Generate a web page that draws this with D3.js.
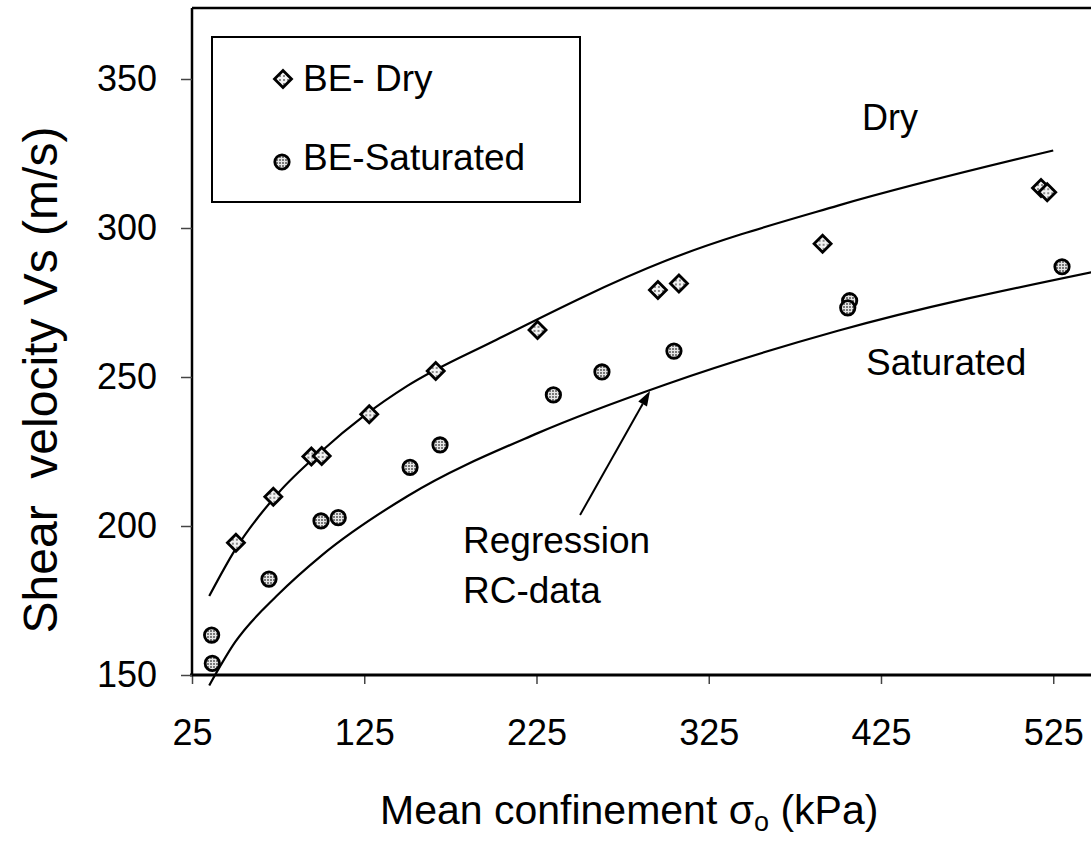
<!DOCTYPE html>
<html>
<head>
<meta charset="utf-8">
<script src="https://cdn.jsdelivr.net/npm/d3@7"></script>
<style>
  html, body { margin: 0; padding: 0; background: #fff; }
  svg { display: block; font-family: "Liberation Sans", Arial, sans-serif; }
</style>
</head>
<body>
<svg id="chart" width="1091" height="850"></svg>
<script>
// Axis ticks
const sigmaTicks = [25, 125, 225, 325, 425, 525];
const vsTicks = [150, 200, 250, 300, 350];

// Bender-element measurements, dry specimens (kPa, m/s)
const drySigma = [50.5, 72.2, 94.3, 100.3, 127.9, 166.5, 225.6, 295.5, 307.7, 391.1, 517.9, 521.5];
const dryVs    = [194.4, 209.8, 223.3, 223.5, 237.5, 252.0, 265.8, 279.2, 281.4, 294.7, 313.4, 312.0];

// Bender-element measurements, saturated specimens (kPa, m/s)
const satSigma = [36.8, 36.4, 69.7, 99.9, 109.9, 151.6, 169.0, 234.8, 263.0, 304.8, 406.8, 405.7, 530.1];
const satVs    = [153.9, 163.4, 182.2, 201.7, 202.8, 219.7, 227.2, 244.0, 251.7, 258.7, 275.6, 273.2, 287.0];

// Regression curves from resonant-column data
const regDrySigma = [35, 50, 75, 100, 125, 150, 200, 300, 400, 525];
const regDryVs    = [176.5, 192, 211, 225, 237, 247, 262, 289, 307.5, 326];
const regSatSigma = [35, 50, 75, 100, 150, 225, 300, 400, 550];
const regSatVs    = [146.5, 161, 177, 190, 210, 231, 247.5, 265.5, 285.5];

const svg = d3.select("#chart");

// Speckled marker fills
const defs = svg.append("defs");
const pLight = defs.append("pattern").attr("id", "speckleLight")
  .attr("width", 4).attr("height", 4).attr("patternUnits", "userSpaceOnUse");
pLight.append("rect").attr("width", 4).attr("height", 4).attr("fill", "#f2f2f2");
pLight.append("rect").attr("x", 0).attr("y", 0).attr("width", 2).attr("height", 2).attr("fill", "#8a8a8a");
const pDark = defs.append("pattern").attr("id", "speckleDark")
  .attr("width", 3).attr("height", 3).attr("patternUnits", "userSpaceOnUse");
pDark.append("rect").attr("width", 3).attr("height", 3).attr("fill", "#e6e6e6");
pDark.append("rect").attr("x", 0).attr("y", 0).attr("width", 2).attr("height", 2).attr("fill", "#7a7a7a");

const x = d3.scaleLinear().domain([25, 550]).range([192, 1096.3]);
const y = d3.scaleLinear().domain([150, 350]).range([675, 79]);

// Plot frame: left and top borders
svg.append("line").attr("x1", 192).attr("x2", 192).attr("y1", 8).attr("y2", 675)
  .attr("stroke", "#000").attr("stroke-width", 2.5);
svg.append("line").attr("x1", 192).attr("x2", 1091).attr("y1", 8).attr("y2", 8)
  .attr("stroke", "#000").attr("stroke-width", 2.5);

// X axis
const xAxis = svg.append("g").attr("transform", "translate(0,675)")
  .call(d3.axisBottom(x).tickValues(sigmaTicks).tickFormat(d3.format("d")).tickSize(9).tickPadding(35));
xAxis.select(".domain").remove();
xAxis.selectAll(".tick line").attr("stroke", "#444").attr("stroke-width", 1.5);
xAxis.selectAll("text").attr("font-size", 36).attr("fill", "#000")
  .attr("font-family", "Liberation Sans, Arial, sans-serif");
svg.append("line").attr("x1", 190).attr("x2", 1091).attr("y1", 675).attr("y2", 675)
  .attr("stroke", "#000").attr("stroke-width", 3.2);

// Y axis
const yAxis = svg.append("g").attr("transform", "translate(192,0)")
  .call(d3.axisLeft(y).tickValues(vsTicks).tickFormat(d3.format("d")).tickSize(11).tickPadding(24));
yAxis.select(".domain").remove();
yAxis.selectAll(".tick line").attr("stroke", "#444").attr("stroke-width", 1.5);
yAxis.selectAll("text").attr("font-size", 36).attr("fill", "#000")
  .attr("font-family", "Liberation Sans, Arial, sans-serif");

// Axis titles
const xt = svg.append("text").attr("x", 380).attr("y", 824)
  .attr("font-size", 41).attr("fill", "#000");
xt.append("tspan").text("Mean confinement ");
xt.append("tspan").text("σ");
xt.append("tspan").attr("font-size", 27).attr("dy", 7).text("o");
xt.append("tspan").attr("dy", -7).text(" (kPa)");

svg.append("text")
  .attr("transform", "translate(57,380) rotate(-90)")
  .attr("text-anchor", "middle").attr("font-size", 48).attr("fill", "#000")
  .style("white-space", "pre")
  .text("Shear  velocity Vs (m/s)");

// Regression curves
const line = d3.line().x(d => x(d[0])).y(d => y(d[1])).curve(d3.curveMonotoneX);
svg.append("path").datum(d3.zip(regDrySigma, regDryVs)).attr("d", line)
  .attr("fill", "none").attr("stroke", "#000").attr("stroke-width", 2.2);
svg.append("path").datum(d3.zip(regSatSigma, regSatVs)).attr("d", line)
  .attr("fill", "none").attr("stroke", "#000").attr("stroke-width", 2.2);

// Marker shapes
const diamondPath = "M0,-8.5L8.5,0L0,8.5L-8.5,0Z";
function drawDiamond(g, cx, cy) {
  g.append("path").attr("d", diamondPath).attr("transform", `translate(${cx},${cy})`)
    .attr("fill", "url(#speckleLight)").attr("stroke", "#000").attr("stroke-width", 2.8);
}
function drawCircle(g, cx, cy) {
  g.append("circle").attr("cx", cx).attr("cy", cy).attr("r", 7.2)
    .attr("fill", "url(#speckleDark)").attr("stroke", "#000").attr("stroke-width", 2.8);
}

const marks = svg.append("g");
d3.zip(drySigma, dryVs).forEach(d => drawDiamond(marks, x(d[0]), y(d[1])));
d3.zip(satSigma, satVs).forEach(d => drawCircle(marks, x(d[0]), y(d[1])));

// Curve labels
svg.append("text").attr("x", 862).attr("y", 130).attr("font-size", 36).attr("fill", "#000").text("Dry");
svg.append("text").attr("x", 866).attr("y", 375).attr("font-size", 37).attr("fill", "#000").text("Saturated");
svg.append("text").attr("x", 463).attr("y", 553).attr("font-size", 37).attr("fill", "#000").text("Regression");
svg.append("text").attr("x", 463).attr("y", 603).attr("font-size", 37).attr("fill", "#000").text("RC-data");

// Arrow from the annotation to the saturated regression curve
const tail = [x(250.3), y(203.7)];
const tip = [x(290.9), y(245.3)];
const ang = Math.atan2(tip[1] - tail[1], tip[0] - tail[0]);
const headLen = 15, headW = 5;
const base = [tip[0] - headLen * Math.cos(ang), tip[1] - headLen * Math.sin(ang)];
svg.append("line").attr("x1", tail[0]).attr("y1", tail[1]).attr("x2", base[0]).attr("y2", base[1])
  .attr("stroke", "#000").attr("stroke-width", 2);
svg.append("path")
  .attr("d", `M${tip[0]},${tip[1]}L${base[0] - headW * Math.sin(ang)},${base[1] + headW * Math.cos(ang)}L${base[0] + headW * Math.sin(ang)},${base[1] - headW * Math.cos(ang)}Z`)
  .attr("fill", "#000");

// Legend
const legend = svg.append("g");
legend.append("rect").attr("x", 212).attr("y", 37).attr("width", 368).attr("height", 165)
  .attr("fill", "#fff").attr("stroke", "#000").attr("stroke-width", 2);
drawDiamond(legend, 283, 79);
legend.append("text").attr("x", 303).attr("y", 91).attr("font-size", 37).attr("fill", "#000").text("BE- Dry");
drawCircle(legend, 282, 162);
legend.append("text").attr("x", 303).attr("y", 170).attr("font-size", 37).attr("fill", "#000").text("BE-Saturated");
</script>
</body>
</html>
